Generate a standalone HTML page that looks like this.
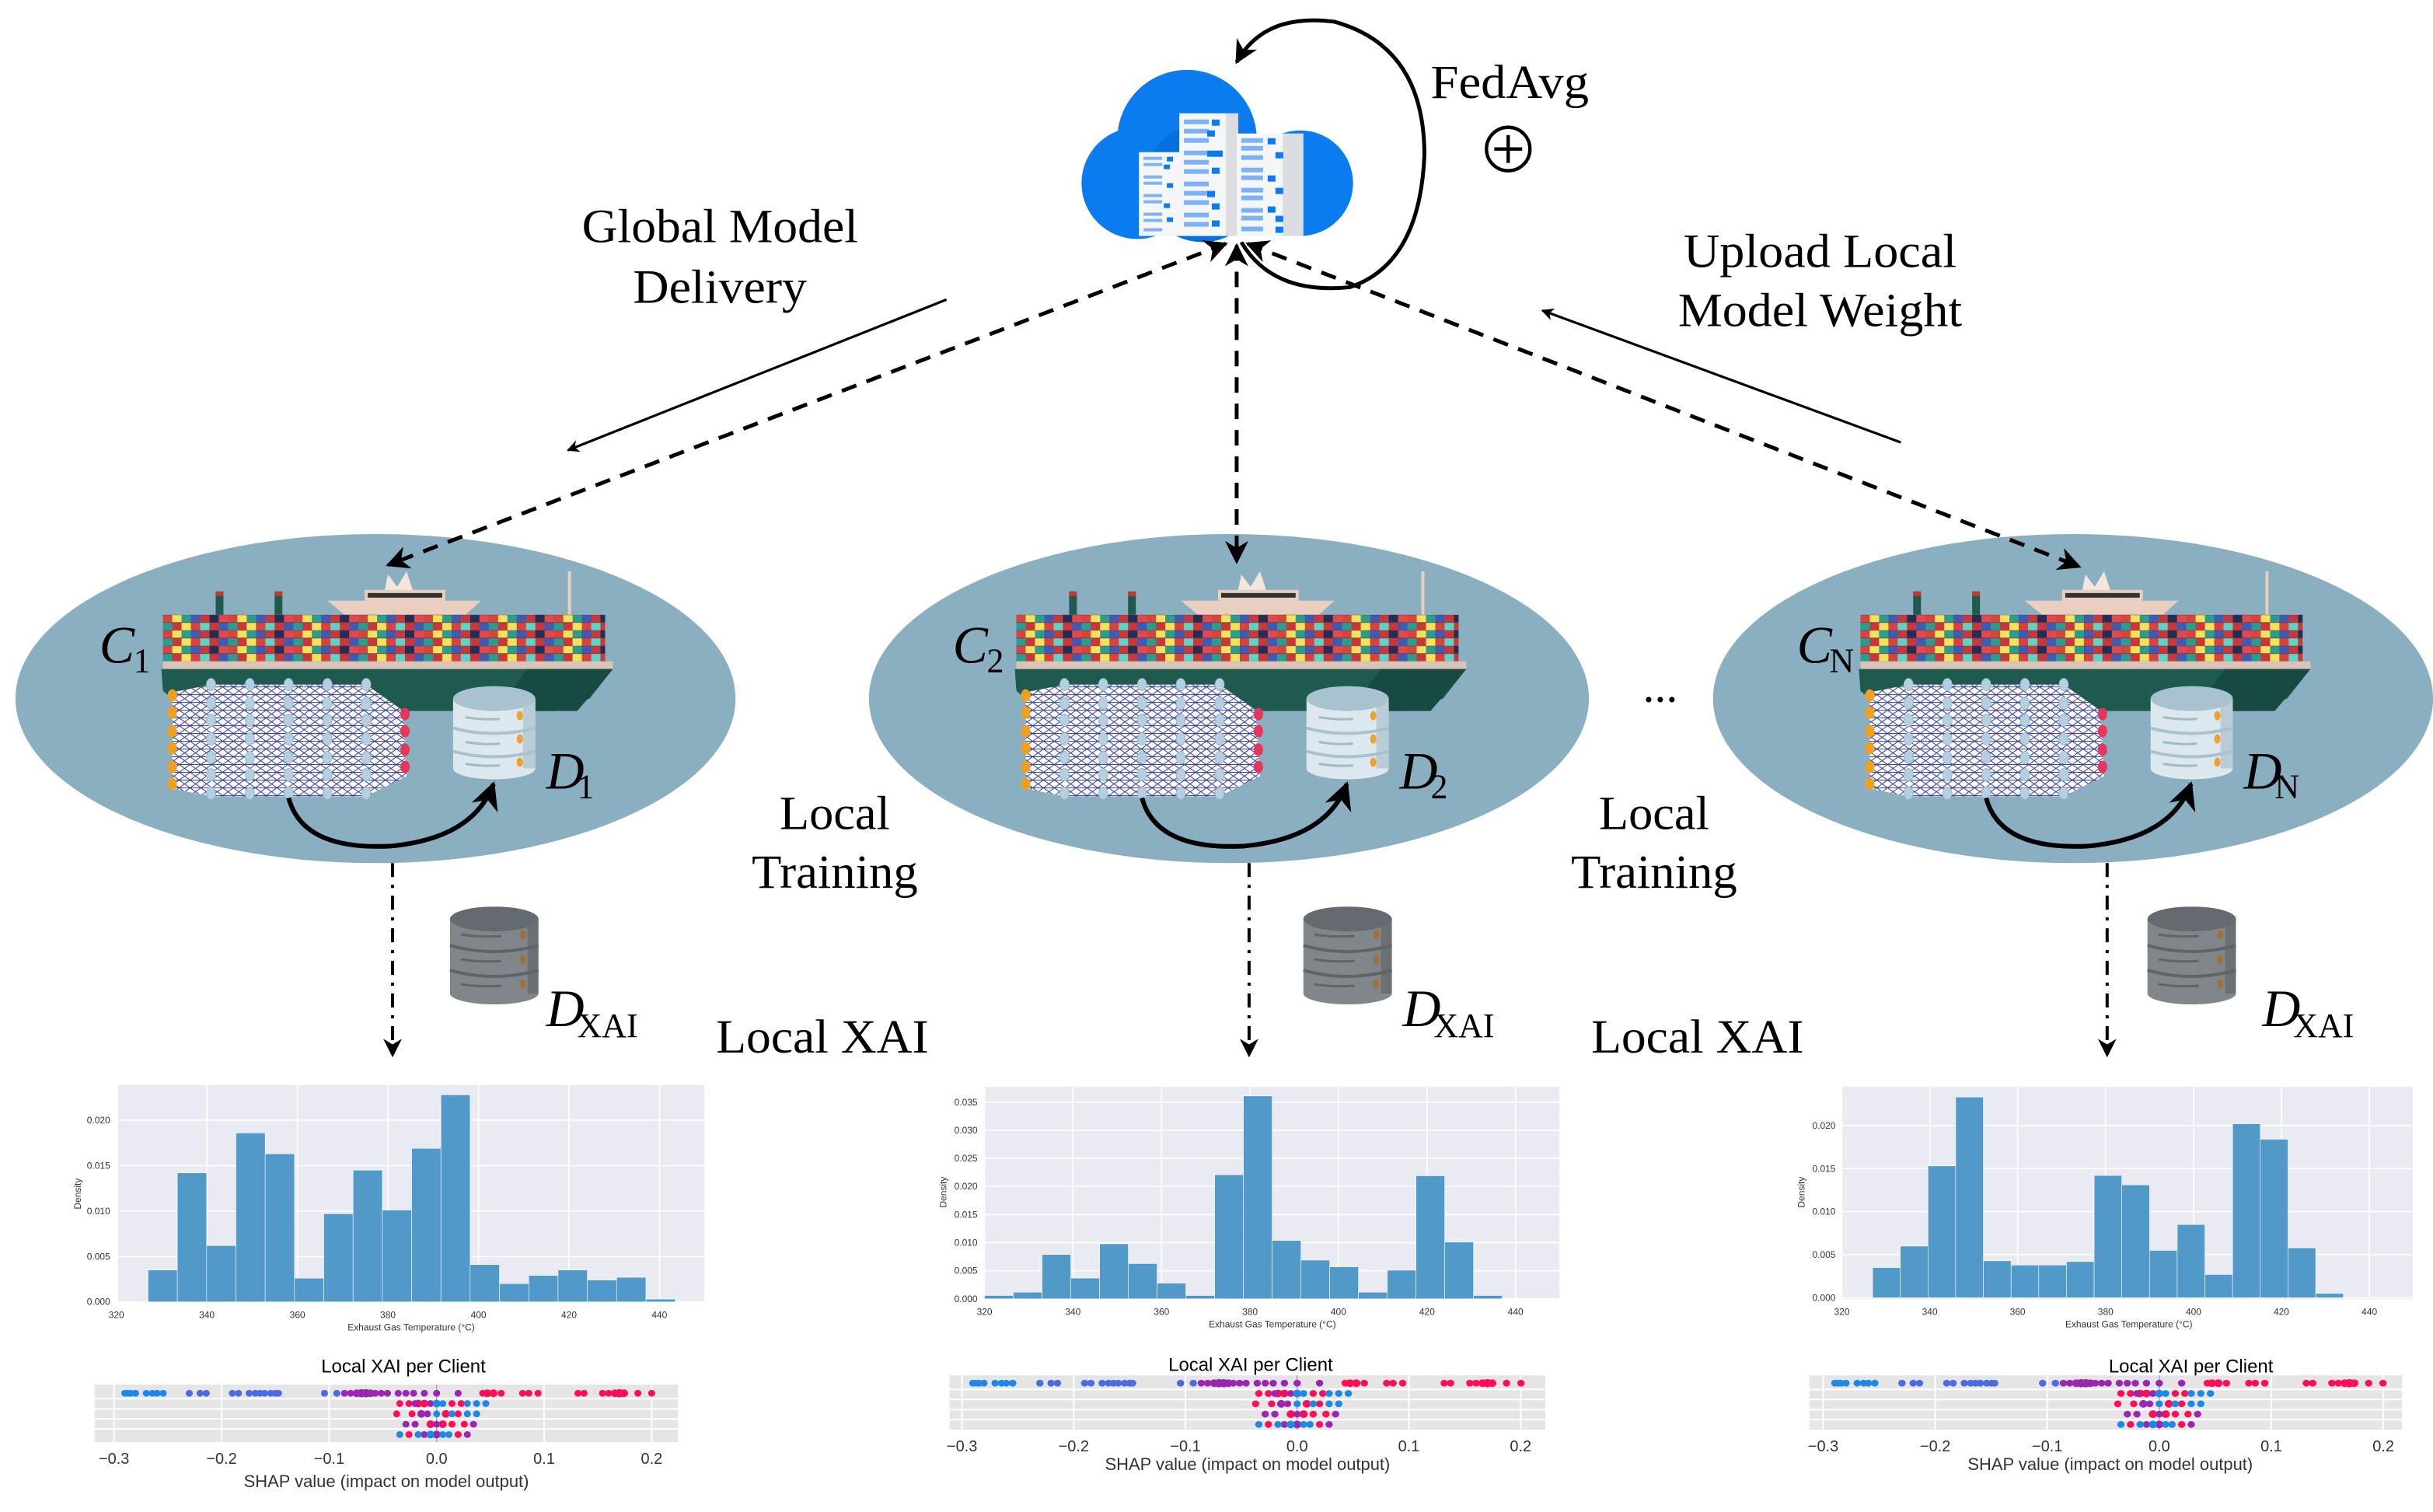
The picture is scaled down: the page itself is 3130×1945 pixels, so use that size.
<!DOCTYPE html>
<html><head><meta charset="utf-8"><style>
html,body{margin:0;padding:0;background:#fff;}
svg{display:block;}
text{font-family:"Liberation Serif",serif;}
.sans text{font-family:"Liberation Sans",sans-serif;}
</style></head><body>
<svg width="3130" height="1945" viewBox="0 0 1568 974" preserveAspectRatio="none" xmlns="http://www.w3.org/2000/svg">
<defs>
<marker id="ah" viewBox="0 0 10 10" refX="9" refY="5" markerWidth="5" markerHeight="5" orient="auto-start-reverse"><path d="M0,0 L10,5 L0,10 L3,5 z" fill="#000"/></marker>
<marker id="ahs" viewBox="0 0 10 10" refX="9" refY="5" markerWidth="6" markerHeight="6" orient="auto-start-reverse"><path d="M0,0 L10,5 L0,10 L3,5 z" fill="#000"/></marker>
<pattern id="cont" width="42" height="10" patternUnits="userSpaceOnUse" x="105" y="396">
<rect x="0" y="0" width="6" height="5" fill="#d8423f"/><rect x="6" y="0" width="6" height="5" fill="#f1e35a"/><rect x="12" y="0" width="6" height="5" fill="#2a9d8f"/><rect x="18" y="0" width="6" height="5" fill="#3b5bb5"/><rect x="24" y="0" width="6" height="5" fill="#c8373a"/><rect x="30" y="0" width="6" height="5" fill="#1f2f5a"/><rect x="36" y="0" width="6" height="5" fill="#e04a4a"/>
<rect x="0" y="5" width="6" height="5" fill="#2a9d8f"/><rect x="6" y="5" width="6" height="5" fill="#c8373a"/><rect x="12" y="5" width="6" height="5" fill="#f1e35a"/><rect x="18" y="5" width="6" height="5" fill="#d8423f"/><rect x="24" y="5" width="6" height="5" fill="#5fd3c6"/><rect x="30" y="5" width="6" height="5" fill="#c8373a"/><rect x="36" y="5" width="6" height="5" fill="#3b5bb5"/>
<path d="M0,0H42M0,5H42" stroke="#7a3030" stroke-width="0.4"/>
</pattern>
<pattern id="nnp" width="7" height="5" patternUnits="userSpaceOnUse">
<path d="M0,0 L7,5 M7,0 L0,5 M0,2.5 L7,2.5" stroke="#3a3f98" stroke-width="0.55" fill="none"/>
</pattern>
<g id="client">
<ellipse cx="242" cy="450" rx="232" ry="106" fill="#8aafc0"/>
<rect x="139" y="381" width="5" height="15" fill="#1e5a4e"/><rect x="139" y="381" width="5" height="3" fill="#c0392b"/>
<rect x="177" y="381" width="5" height="15" fill="#1e5a4e"/><rect x="177" y="381" width="5" height="3" fill="#c0392b"/>
<path d="M211,387 L310,387 L300,396 L222,396 Z" fill="#e8cfc0"/>
<rect x="235" y="380" width="52" height="7" fill="#e8cfc0"/>
<rect x="237" y="382" width="48" height="3" fill="#333"/>
<path d="M248,380 L250,370 L256,378 L262,368 L266,380 Z" fill="#f4e6dc"/>
<rect x="366" y="368" width="2" height="58" fill="#e8cfc0"/>
<rect x="105" y="396" width="285" height="30" fill="url(#cont)"/>
<rect x="105" y="426" width="290" height="5" fill="#d9c4b8"/>
<path d="M104,431 L395,431 L380,450 L358,458 L120,458 L105,445 Z" fill="#1e5a4e"/>
<path d="M340,431 L395,431 L372,458 L320,458 Z" fill="#174a40"/>
<path d="M111,446 L136,441 L236,441 L260,458 L262,500 L236,513 L136,513 L111,508 Z" fill="#fff"/>
<path d="M111,446 L136,441 L236,441 L260,458 L262,500 L236,513 L136,513 L111,508 Z" fill="url(#nnp)"/>
<g fill="#f0a020"><ellipse cx="111" cy="448" rx="3" ry="4"/><ellipse cx="111" cy="459" rx="3" ry="4"/><ellipse cx="111" cy="471" rx="3" ry="4"/><ellipse cx="111" cy="482" rx="3" ry="4"/><ellipse cx="111" cy="494" rx="3" ry="4"/><ellipse cx="111" cy="505" rx="3" ry="4"/></g>
<g fill="#b4cfe0" stroke="#8fb0c8" stroke-width="0.4">
<g id="col"><ellipse cx="136" cy="441" rx="3" ry="4"/><ellipse cx="136" cy="453" rx="3" ry="4"/><ellipse cx="136" cy="464" rx="3" ry="4"/><ellipse cx="136" cy="476" rx="3" ry="4"/><ellipse cx="136" cy="488" rx="3" ry="4"/><ellipse cx="136" cy="499" rx="3" ry="4"/><ellipse cx="136" cy="511" rx="3" ry="4"/></g>
<use href="#col" x="25"/><use href="#col" x="50"/><use href="#col" x="75"/><use href="#col" x="100"/>
</g>
<g fill="#e8355a"><ellipse cx="261" cy="460" rx="3" ry="4"/><ellipse cx="261" cy="471" rx="3" ry="4"/><ellipse cx="261" cy="483" rx="3" ry="4"/><ellipse cx="261" cy="494" rx="3" ry="4"/></g>
<rect x="292" y="450" width="53" height="45" fill="#dde8ee"/>
<ellipse cx="318.5" cy="495" rx="26.5" ry="7" fill="#dde8ee"/>
<rect x="337" y="450" width="8" height="45" fill="#b8cdd8"/>
<ellipse cx="318.5" cy="450" rx="26.5" ry="8" fill="#a8c2d0"/>
<path d="M292,469 Q318,476 345,469 M292,484 Q318,491 345,484" stroke="#a8c2d0" stroke-width="2" fill="none"/>
<path d="M300,462 Q312,464 322,463 M300,478 Q312,480 322,479 M300,492 Q312,494 322,493" stroke="#9fbac8" stroke-width="1.5" fill="none"/>
<g fill="#f0a030"><ellipse cx="335" cy="461" rx="2" ry="3"/><ellipse cx="335" cy="476" rx="2" ry="3"/><ellipse cx="335" cy="491" rx="2" ry="3"/></g>
<path d="M186,514 Q195,548 252,545 Q305,540 318,505" stroke="#000" stroke-width="3" fill="none" marker-end="url(#ahs)"/>
<rect x="290" y="592" width="57" height="48" fill="#80868a"/>
<ellipse cx="318.5" cy="640" rx="28.5" ry="7" fill="#80868a"/>
<rect x="340" y="592" width="7" height="48" fill="#6a7074"/>
<ellipse cx="318.5" cy="592" rx="28.5" ry="8" fill="#636b70"/>
<path d="M290,609 Q318,617 347,609 M290,625 Q318,633 347,625" stroke="#5d6569" stroke-width="2" fill="none"/>
<path d="M297,602 Q310,604 323,603 M297,618 Q310,620 323,619 M297,634 Q310,636 323,635" stroke="#5d6569" stroke-width="1.5" fill="none"/>
<g fill="#a0703a"><ellipse cx="337" cy="602" rx="2" ry="3"/><ellipse cx="337" cy="618" rx="2" ry="3"/><ellipse cx="337" cy="634" rx="2" ry="3"/></g>
</g>
<g id="shapdots">
<g fill="#1e88e5"><circle cx="-203" cy="0" r="2.3"/><circle cx="-201" cy="0" r="2.3"/><circle cx="-199" cy="0" r="2.3"/><circle cx="-196" cy="0" r="2.3"/><circle cx="-189" cy="0" r="2.3"/><circle cx="-185" cy="0" r="2.3"/><circle cx="-182" cy="0" r="2.3"/><circle cx="-178" cy="0" r="2.3"/></g>
<g fill="#4b6be0"><circle cx="-161" cy="0" r="2.3"/><circle cx="-154" cy="0" r="2.3"/><circle cx="-150" cy="0" r="2.3"/><circle cx="-133" cy="0" r="2.3"/><circle cx="-129" cy="0" r="2.3"/><circle cx="-122" cy="0" r="2.3"/><circle cx="-118" cy="0" r="2.3"/><circle cx="-115" cy="0" r="2.3"/><circle cx="-112" cy="0" r="2.3"/><circle cx="-108" cy="0" r="2.3"/><circle cx="-105" cy="0" r="2.3"/><circle cx="-103" cy="0" r="2.3"/><circle cx="-73" cy="0" r="2.3"/><circle cx="-65" cy="0" r="2.3"/></g>
<g fill="#9b27b0"><circle cx="-60" cy="0" r="2.3"/><circle cx="-56" cy="0" r="2.3"/><circle cx="-52" cy="0" r="2.6"/><circle cx="-49" cy="0" r="2.8"/><circle cx="-46" cy="0" r="2.8"/><circle cx="-43" cy="0" r="2.6"/><circle cx="-40" cy="0" r="2.3"/><circle cx="-36" cy="0" r="2.3"/><circle cx="-32" cy="0" r="2.3"/><circle cx="-25" cy="0" r="2.3"/><circle cx="-20" cy="0" r="2.3"/><circle cx="-15" cy="0" r="2.3"/><circle cx="-8" cy="0" r="2.3"/><circle cx="0" cy="0" r="2.3"/><circle cx="14" cy="0" r="2.3"/></g>
<g fill="#ff0d57"><circle cx="30" cy="0" r="2.3"/><circle cx="33" cy="0" r="2.6"/><circle cx="37" cy="0" r="2.6"/><circle cx="42" cy="0" r="2.3"/><circle cx="56" cy="0" r="2.3"/><circle cx="60" cy="0" r="2.3"/><circle cx="66" cy="0" r="2.3"/><circle cx="92" cy="0" r="2.3"/><circle cx="96" cy="0" r="2.3"/><circle cx="108" cy="0" r="2.3"/><circle cx="112" cy="0" r="2.3"/><circle cx="116" cy="0" r="2.6"/><circle cx="119" cy="0" r="2.8"/><circle cx="122" cy="0" r="2.6"/><circle cx="131" cy="0" r="2.3"/><circle cx="140" cy="0" r="2.3"/></g>
<g fill="#ff0d57"><circle cx="-24" cy="7" r="2.3"/><circle cx="-18" cy="7" r="2.3"/><circle cx="-12" cy="7" r="2.6"/><circle cx="-8" cy="7" r="2.6"/><circle cx="10" cy="7" r="2.3"/><circle cx="16" cy="7" r="2.3"/><circle cx="-26" cy="14" r="2.3"/><circle cx="-16" cy="14" r="2.3"/><circle cx="6" cy="14" r="2.6"/><circle cx="14" cy="14" r="2.3"/><circle cx="-4" cy="21" r="2.6"/><circle cx="4" cy="21" r="2.6"/><circle cx="10" cy="21" r="2.3"/><circle cx="18" cy="21" r="2.3"/><circle cx="-18" cy="28" r="2.3"/><circle cx="14" cy="28" r="2.3"/></g>
<g fill="#9b27b0"><circle cx="-14" cy="7" r="2.3"/><circle cx="-4" cy="7" r="2.3"/><circle cx="-10" cy="14" r="2.6"/><circle cx="-6" cy="14" r="2.3"/><circle cx="-20" cy="21" r="2.3"/><circle cx="-14" cy="21" r="2.3"/><circle cx="0" cy="21" r="2.3"/><circle cx="24" cy="21" r="2.3"/><circle cx="-8" cy="28" r="2.3"/><circle cx="0" cy="28" r="2.6"/><circle cx="20" cy="28" r="2.3"/></g>
<g fill="#1e88e5"><circle cx="0" cy="7" r="2.6"/><circle cx="4" cy="7" r="2.3"/><circle cx="20" cy="7" r="2.3"/><circle cx="26" cy="7" r="2.3"/><circle cx="32" cy="7" r="2.3"/><circle cx="0" cy="14" r="2.3"/><circle cx="10" cy="14" r="2.3"/><circle cx="20" cy="14" r="2.3"/><circle cx="26" cy="14" r="2.3"/><circle cx="-24" cy="28" r="2.3"/><circle cx="-12" cy="28" r="2.3"/><circle cx="-4" cy="28" r="2.6"/><circle cx="4" cy="28" r="2.3"/><circle cx="8" cy="28" r="2.3"/></g>
</g>
</defs>

<!-- cloud -->
<g>
<circle cx="765" cy="90" r="45" fill="#0a7cf0"/>
<circle cx="733" cy="118" r="36" fill="#0a7cf0"/>
<circle cx="838" cy="118" r="34" fill="#0a7cf0"/>
<rect x="733" y="110" width="105" height="42" fill="#0a7cf0"/>
<circle cx="775" cy="118" r="38" fill="#0670dc"/>
<rect x="734" y="98" width="27" height="54" fill="#f4f6f8"/>
<rect x="760" y="73" width="30" height="79" fill="#f4f6f8"/><rect x="790" y="73" width="8" height="79" fill="#dcdde0"/>
<rect x="797" y="86" width="30" height="66" fill="#f4f6f8"/><rect x="827" y="86" width="13" height="66" fill="#dcdde0"/>
<g fill="#7fb2f4">
<rect x="737" y="101" width="12" height="2"/><rect x="737" y="105" width="12" height="2"/><rect x="737" y="113" width="12" height="2"/><rect x="737" y="117" width="12" height="2"/><rect x="737" y="125" width="12" height="2"/><rect x="737" y="129" width="12" height="2"/><rect x="737" y="137" width="12" height="2"/><rect x="737" y="141" width="12" height="2"/><rect x="737" y="147" width="12" height="2"/>
<rect x="763" y="77" width="16" height="3"/><rect x="763" y="83" width="16" height="3"/><rect x="763" y="89" width="16" height="3"/><rect x="763" y="97" width="16" height="3"/><rect x="763" y="103" width="16" height="3"/><rect x="763" y="109" width="16" height="3"/><rect x="763" y="117" width="16" height="3"/><rect x="763" y="123" width="16" height="3"/><rect x="763" y="129" width="16" height="3"/><rect x="763" y="137" width="16" height="3"/><rect x="763" y="143" width="16" height="3"/>
<rect x="800" y="89" width="14" height="3"/><rect x="800" y="94" width="14" height="3"/><rect x="800" y="100" width="14" height="3"/><rect x="800" y="108" width="14" height="3"/><rect x="800" y="113" width="14" height="3"/><rect x="800" y="121" width="14" height="3"/><rect x="800" y="126" width="14" height="3"/><rect x="800" y="134" width="14" height="3"/><rect x="800" y="139" width="14" height="3"/><rect x="800" y="146" width="14" height="3"/>
</g>
<g fill="#0a7cf0">
<rect x="752" y="101" width="4" height="3"/><rect x="750" y="106" width="4" height="3"/><rect x="752" y="118" width="4" height="3"/><rect x="750" y="131" width="4" height="3"/><rect x="752" y="140" width="4" height="3"/>
<rect x="781" y="77" width="5" height="4"/><rect x="778" y="84" width="5" height="4"/><rect x="778" y="97" width="5" height="4"/><rect x="783" y="97" width="5" height="4"/><rect x="781" y="108" width="5" height="4"/><rect x="778" y="123" width="5" height="4"/><rect x="781" y="131" width="5" height="4"/><rect x="781" y="142" width="5" height="4"/>
<rect x="817" y="89" width="5" height="4"/><rect x="822" y="98" width="5" height="4"/><rect x="817" y="113" width="5" height="4"/><rect x="822" y="121" width="5" height="4"/><rect x="817" y="133" width="5" height="4"/><rect x="822" y="139" width="5" height="4"/><rect x="822" y="146" width="5" height="4"/>
</g>
</g>

<path d="M800,156 Q820,190 870,185 Q915,170 918,100 Q918,30 860,14 Q815,8 797,40" stroke="#000" stroke-width="2.5" fill="none" marker-end="url(#ahs)"/>
<text x="922" y="63" font-size="31" textLength="102" lengthAdjust="spacingAndGlyphs">FedAvg</text>
<circle cx="972" cy="96" r="14" fill="none" stroke="#000" stroke-width="2.2"/>
<path d="M963,96 H981 M972,87 V105" stroke="#000" stroke-width="2.2"/>

<g font-size="31">
<text x="464" y="156" text-anchor="middle" textLength="178" lengthAdjust="spacingAndGlyphs">Global Model</text>
<text x="464" y="195" text-anchor="middle" textLength="112" lengthAdjust="spacingAndGlyphs">Delivery</text>
<text x="1173" y="172" text-anchor="middle" textLength="176" lengthAdjust="spacingAndGlyphs">Upload Local</text>
<text x="1173" y="210" text-anchor="middle" textLength="183" lengthAdjust="spacingAndGlyphs">Model Weight</text>
<text x="538" y="534" text-anchor="middle" textLength="71" lengthAdjust="spacingAndGlyphs">Local</text>
<text x="538" y="572" text-anchor="middle" textLength="107" lengthAdjust="spacingAndGlyphs">Training</text>
<text x="1066" y="534" text-anchor="middle" textLength="71" lengthAdjust="spacingAndGlyphs">Local</text>
<text x="1066" y="572" text-anchor="middle" textLength="107" lengthAdjust="spacingAndGlyphs">Training</text>
<text x="530" y="678" text-anchor="middle" textLength="137" lengthAdjust="spacingAndGlyphs">Local XAI</text>
<text x="1094" y="678" text-anchor="middle" textLength="137" lengthAdjust="spacingAndGlyphs">Local XAI</text>
</g>

<line x1="610" y1="193" x2="366" y2="290" stroke="#000" stroke-width="1.6" marker-end="url(#ah)"/>
<line x1="1225" y1="285" x2="994" y2="200" stroke="#000" stroke-width="1.6" marker-end="url(#ah)"/>

<use href="#client"/>
<use href="#client" x="550"/>
<use href="#client" x="1094"/>

<g stroke="#000" stroke-width="2.5" stroke-dasharray="10,7" fill="none">
<line x1="790" y1="157" x2="250" y2="364" marker-start="url(#ahs)" marker-end="url(#ahs)"/>
<line x1="797" y1="158" x2="797" y2="362" marker-start="url(#ahs)" marker-end="url(#ahs)"/>
<line x1="804" y1="157" x2="1340" y2="365" marker-start="url(#ahs)" marker-end="url(#ahs)"/>
</g>
<g stroke="#000" stroke-width="2" stroke-dasharray="9,5,2,5" fill="none">
<line x1="253" y1="556" x2="253" y2="680" marker-end="url(#ahs)"/>
<line x1="805" y1="556" x2="805" y2="680" marker-end="url(#ahs)"/>
<line x1="1358" y1="556" x2="1358" y2="680" marker-end="url(#ahs)"/>
</g>

<g font-size="34">
<text x="64" y="427" font-style="italic">C</text><text x="86" y="433" font-size="22">1</text>
<text x="352" y="508" font-style="italic">D</text><text x="372" y="514" font-size="22">1</text>
<text x="614" y="427" font-style="italic">C</text><text x="636" y="433" font-size="22">2</text>
<text x="902" y="508" font-style="italic">D</text><text x="922" y="514" font-size="22">2</text>
<text x="1158" y="427" font-style="italic">C</text><text x="1179" y="433" font-size="22">N</text>
<text x="1446" y="508" font-style="italic">D</text><text x="1466" y="514" font-size="22">N</text>
<text x="352" y="661" font-style="italic">D</text><text x="372" y="668" font-size="22">XAI</text>
<text x="904" y="661" font-style="italic">D</text><text x="924" y="668" font-size="22">XAI</text>
<text x="1458" y="661" font-style="italic">D</text><text x="1478" y="668" font-size="22">XAI</text>
</g>
<text x="1070" y="452" font-size="30" text-anchor="middle">...</text>

<!-- Histogram 1 -->
<g class="sans">
<rect x="76" y="699" width="378" height="140" fill="#eaeaf2"/>
<g stroke="#fff" stroke-width="0.8">
<path d="M76,838.6H454M76,809.4H454M76,780.1H454M76,750.9H454M76,721.6H454"/>
<path d="M75,699V839M133.3,699V839M191.7,699V839M250,699V839M308.4,699V839M366.7,699V839M425,699V839"/>
</g>
<g transform="translate(75,838.6) scale(2.917,-5850) translate(-320,0)" fill="#5199c8" stroke="#fff" stroke-width="0.6">
<rect x="327" y="0" width="6.47" height="0.0035" vector-effect="non-scaling-stroke"/><rect x="333.47" y="0" width="6.47" height="0.0142" vector-effect="non-scaling-stroke"/><rect x="339.94" y="0" width="6.47" height="0.0062" vector-effect="non-scaling-stroke"/><rect x="346.41" y="0" width="6.47" height="0.0186" vector-effect="non-scaling-stroke"/><rect x="352.88" y="0" width="6.47" height="0.0163" vector-effect="non-scaling-stroke"/><rect x="359.35" y="0" width="6.47" height="0.0026" vector-effect="non-scaling-stroke"/><rect x="365.82" y="0" width="6.47" height="0.0097" vector-effect="non-scaling-stroke"/><rect x="372.29" y="0" width="6.47" height="0.0145" vector-effect="non-scaling-stroke"/><rect x="378.76" y="0" width="6.47" height="0.0101" vector-effect="non-scaling-stroke"/><rect x="385.23" y="0" width="6.47" height="0.0169" vector-effect="non-scaling-stroke"/><rect x="391.7" y="0" width="6.47" height="0.0228" vector-effect="non-scaling-stroke"/><rect x="398.17" y="0" width="6.47" height="0.0041" vector-effect="non-scaling-stroke"/><rect x="404.64" y="0" width="6.47" height="0.0020" vector-effect="non-scaling-stroke"/><rect x="411.11" y="0" width="6.47" height="0.0029" vector-effect="non-scaling-stroke"/><rect x="417.58" y="0" width="6.47" height="0.0035" vector-effect="non-scaling-stroke"/><rect x="424.05" y="0" width="6.47" height="0.0024" vector-effect="non-scaling-stroke"/><rect x="430.52" y="0" width="6.47" height="0.0027" vector-effect="non-scaling-stroke"/><rect x="436.99" y="0" width="6.47" height="0.0003" vector-effect="non-scaling-stroke"/>
</g>
<g font-size="6" fill="#333" text-anchor="end">
<text x="71" y="840.6">0.000</text><text x="71" y="811.4">0.005</text><text x="71" y="782.1">0.010</text><text x="71" y="752.9">0.015</text><text x="71" y="723.6">0.020</text>
</g>
<g font-size="6" fill="#333" text-anchor="middle">
<text x="75" y="849">320</text><text x="133.3" y="849">340</text><text x="191.7" y="849">360</text><text x="250" y="849">380</text><text x="308.4" y="849">400</text><text x="366.7" y="849">420</text><text x="425" y="849">440</text>
<text x="265" y="857">Exhaust Gas Temperature (°C)</text>
<text transform="translate(52,769) rotate(-90)">Density</text>
</g>
</g>

<!-- Histogram 2 -->
<g class="sans">
<rect x="634" y="700" width="371" height="137" fill="#eaeaf2"/>
<g stroke="#fff" stroke-width="0.8">
<path d="M634,836.7H1005M634,818.6H1005M634,800.5H1005M634,782.4H1005M634,764.3H1005M634,746.2H1005M634,728.1H1005M634,710H1005"/>
<path d="M634.5,700V837M691.5,700V837M748.6,700V837M805.6,700V837M862.6,700V837M919.7,700V837M976.7,700V837"/>
</g>
<g transform="translate(634.5,836.7) scale(2.852,-3620) translate(-320,0)" fill="#5199c8" stroke="#fff" stroke-width="0.6">
<rect x="320" y="0" width="6.5" height="0.0006" vector-effect="non-scaling-stroke"/><rect x="326.5" y="0" width="6.5" height="0.0012" vector-effect="non-scaling-stroke"/><rect x="333" y="0" width="6.5" height="0.0079" vector-effect="non-scaling-stroke"/><rect x="339.5" y="0" width="6.5" height="0.0037" vector-effect="non-scaling-stroke"/><rect x="346" y="0" width="6.5" height="0.0098" vector-effect="non-scaling-stroke"/><rect x="352.5" y="0" width="6.5" height="0.0063" vector-effect="non-scaling-stroke"/><rect x="359" y="0" width="6.5" height="0.0028" vector-effect="non-scaling-stroke"/><rect x="365.5" y="0" width="6.5" height="0.0006" vector-effect="non-scaling-stroke"/><rect x="372" y="0" width="6.5" height="0.0221" vector-effect="non-scaling-stroke"/><rect x="378.5" y="0" width="6.5" height="0.0361" vector-effect="non-scaling-stroke"/><rect x="385" y="0" width="6.5" height="0.0104" vector-effect="non-scaling-stroke"/><rect x="391.5" y="0" width="6.5" height="0.0069" vector-effect="non-scaling-stroke"/><rect x="398" y="0" width="6.5" height="0.0057" vector-effect="non-scaling-stroke"/><rect x="404.5" y="0" width="6.5" height="0.0012" vector-effect="non-scaling-stroke"/><rect x="411" y="0" width="6.5" height="0.0051" vector-effect="non-scaling-stroke"/><rect x="417.5" y="0" width="6.5" height="0.0219" vector-effect="non-scaling-stroke"/><rect x="424" y="0" width="6.5" height="0.0101" vector-effect="non-scaling-stroke"/><rect x="430.5" y="0" width="6.5" height="0.0006" vector-effect="non-scaling-stroke"/>
</g>
<g font-size="6" fill="#333" text-anchor="end">
<text x="630" y="838.7">0.000</text><text x="630" y="820.6">0.005</text><text x="630" y="802.5">0.010</text><text x="630" y="784.4">0.015</text><text x="630" y="766.3">0.020</text><text x="630" y="748.2">0.025</text><text x="630" y="730.1">0.030</text><text x="630" y="712">0.035</text>
</g>
<g font-size="6" fill="#333" text-anchor="middle">
<text x="634.5" y="847">320</text><text x="691.5" y="847">340</text><text x="748.6" y="847">360</text><text x="805.6" y="847">380</text><text x="862.6" y="847">400</text><text x="919.7" y="847">420</text><text x="976.7" y="847">440</text>
<text x="820" y="855">Exhaust Gas Temperature (°C)</text>
<text transform="translate(610,768) rotate(-90)">Density</text>
</g>
</g>

<!-- Histogram 3 -->
<g class="sans">
<rect x="1187" y="700" width="368" height="137" fill="#eaeaf2"/>
<g stroke="#fff" stroke-width="0.8">
<path d="M1187,836H1555M1187,808.3H1555M1187,780.5H1555M1187,752.8H1555M1187,725H1555"/>
<path d="M1187,700V837M1243.7,700V837M1300.3,700V837M1357,700V837M1413.7,700V837M1470.3,700V837M1527,700V837"/>
</g>
<g transform="translate(1187,836) scale(2.833,-5550) translate(-320,0)" fill="#5199c8" stroke="#fff" stroke-width="0.6">
<rect x="327" y="0" width="6.3" height="0.0035" vector-effect="non-scaling-stroke"/><rect x="333.3" y="0" width="6.3" height="0.0060" vector-effect="non-scaling-stroke"/><rect x="339.6" y="0" width="6.3" height="0.0153" vector-effect="non-scaling-stroke"/><rect x="345.9" y="0" width="6.3" height="0.0233" vector-effect="non-scaling-stroke"/><rect x="352.2" y="0" width="6.3" height="0.0043" vector-effect="non-scaling-stroke"/><rect x="358.5" y="0" width="6.3" height="0.0038" vector-effect="non-scaling-stroke"/><rect x="364.8" y="0" width="6.3" height="0.0038" vector-effect="non-scaling-stroke"/><rect x="371.1" y="0" width="6.3" height="0.0042" vector-effect="non-scaling-stroke"/><rect x="377.4" y="0" width="6.3" height="0.0142" vector-effect="non-scaling-stroke"/><rect x="383.7" y="0" width="6.3" height="0.0131" vector-effect="non-scaling-stroke"/><rect x="390" y="0" width="6.3" height="0.0055" vector-effect="non-scaling-stroke"/><rect x="396.3" y="0" width="6.3" height="0.0085" vector-effect="non-scaling-stroke"/><rect x="402.6" y="0" width="6.3" height="0.0027" vector-effect="non-scaling-stroke"/><rect x="408.9" y="0" width="6.3" height="0.0202" vector-effect="non-scaling-stroke"/><rect x="415.2" y="0" width="6.3" height="0.0184" vector-effect="non-scaling-stroke"/><rect x="421.5" y="0" width="6.3" height="0.0058" vector-effect="non-scaling-stroke"/><rect x="427.8" y="0" width="6.3" height="0.0005" vector-effect="non-scaling-stroke"/>
</g>
<g font-size="6" fill="#333" text-anchor="end">
<text x="1183" y="838">0.000</text><text x="1183" y="810.3">0.005</text><text x="1183" y="782.5">0.010</text><text x="1183" y="754.8">0.015</text><text x="1183" y="727">0.020</text>
</g>
<g font-size="6" fill="#333" text-anchor="middle">
<text x="1187" y="847">320</text><text x="1243.7" y="847">340</text><text x="1300.3" y="847">360</text><text x="1357" y="847">380</text><text x="1413.7" y="847">400</text><text x="1470.3" y="847">420</text><text x="1527" y="847">440</text>
<text x="1372" y="855">Exhaust Gas Temperature (°C)</text>
<text transform="translate(1163,768) rotate(-90)">Density</text>
</g>
</g>

<!-- SHAP 1 -->
<g class="sans">
<text x="260" y="884" font-size="12" text-anchor="middle">Local XAI per Client</text>
<rect x="61" y="892" width="376" height="37" fill="#e5e5e5"/>
<path d="M61,901H437M61,907.5H437M61,914H437M61,920.5H437M73.5,892V929M142.8,892V929M212.1,892V929M350.7,892V929M420,892V929" stroke="#fff" stroke-width="1"/>
<line x1="281.4" y1="892" x2="281.4" y2="929" stroke="#999" stroke-width="0.6"/>
<use href="#shapdots" transform="translate(281.4,897.5) scale(0.99,0.95)"/>
<g font-size="10" fill="#333" text-anchor="middle">
<text x="73.5" y="943">−0.3</text><text x="142.8" y="943">−0.2</text><text x="212.1" y="943">−0.1</text><text x="281.4" y="943">0.0</text><text x="350.7" y="943">0.1</text><text x="420" y="943">0.2</text>
<text x="249" y="958" font-size="11">SHAP value (impact on model output)</text>
</g>
</g>
<!-- SHAP 2 -->
<g class="sans">
<text x="806" y="883" font-size="12" text-anchor="middle">Local XAI per Client</text>
<rect x="612" y="886" width="384" height="35" fill="#e5e5e5"/>
<path d="M612,895H996M612,901.5H996M612,908H996M612,914.5H996M620,886V921M692,886V921M764,886V921M908,886V921M980,886V921" stroke="#fff" stroke-width="1"/>
<line x1="836" y1="886" x2="836" y2="921" stroke="#999" stroke-width="0.6"/>
<use href="#shapdots" transform="translate(836,891) scale(1.03,0.95)"/>
<g font-size="10" fill="#333" text-anchor="middle">
<text x="620" y="935">−0.3</text><text x="692" y="935">−0.2</text><text x="764" y="935">−0.1</text><text x="836" y="935">0.0</text><text x="908" y="935">0.1</text><text x="980" y="935">0.2</text>
<text x="804" y="947" font-size="11">SHAP value (impact on model output)</text>
</g>
</g>
<!-- SHAP 3 -->
<g class="sans">
<text x="1412" y="884" font-size="12" text-anchor="middle">Local XAI per Client</text>
<rect x="1166" y="886" width="382" height="35" fill="#e5e5e5"/>
<path d="M1166,895H1548M1166,901.5H1548M1166,908H1548M1166,914.5H1548M1175,886V921M1247.2,886V921M1319.4,886V921M1463.8,886V921M1536,886V921" stroke="#fff" stroke-width="1"/>
<line x1="1391.6" y1="886" x2="1391.6" y2="921" stroke="#999" stroke-width="0.6"/>
<use href="#shapdots" transform="translate(1391.6,891) scale(1.03,0.95)"/>
<g font-size="10" fill="#333" text-anchor="middle">
<text x="1175" y="935">−0.3</text><text x="1247.2" y="935">−0.2</text><text x="1319.4" y="935">−0.1</text><text x="1391.6" y="935">0.0</text><text x="1463.8" y="935">0.1</text><text x="1536" y="935">0.2</text>
<text x="1360" y="947" font-size="11">SHAP value (impact on model output)</text>
</g>
</g>
</svg>
</body></html>
